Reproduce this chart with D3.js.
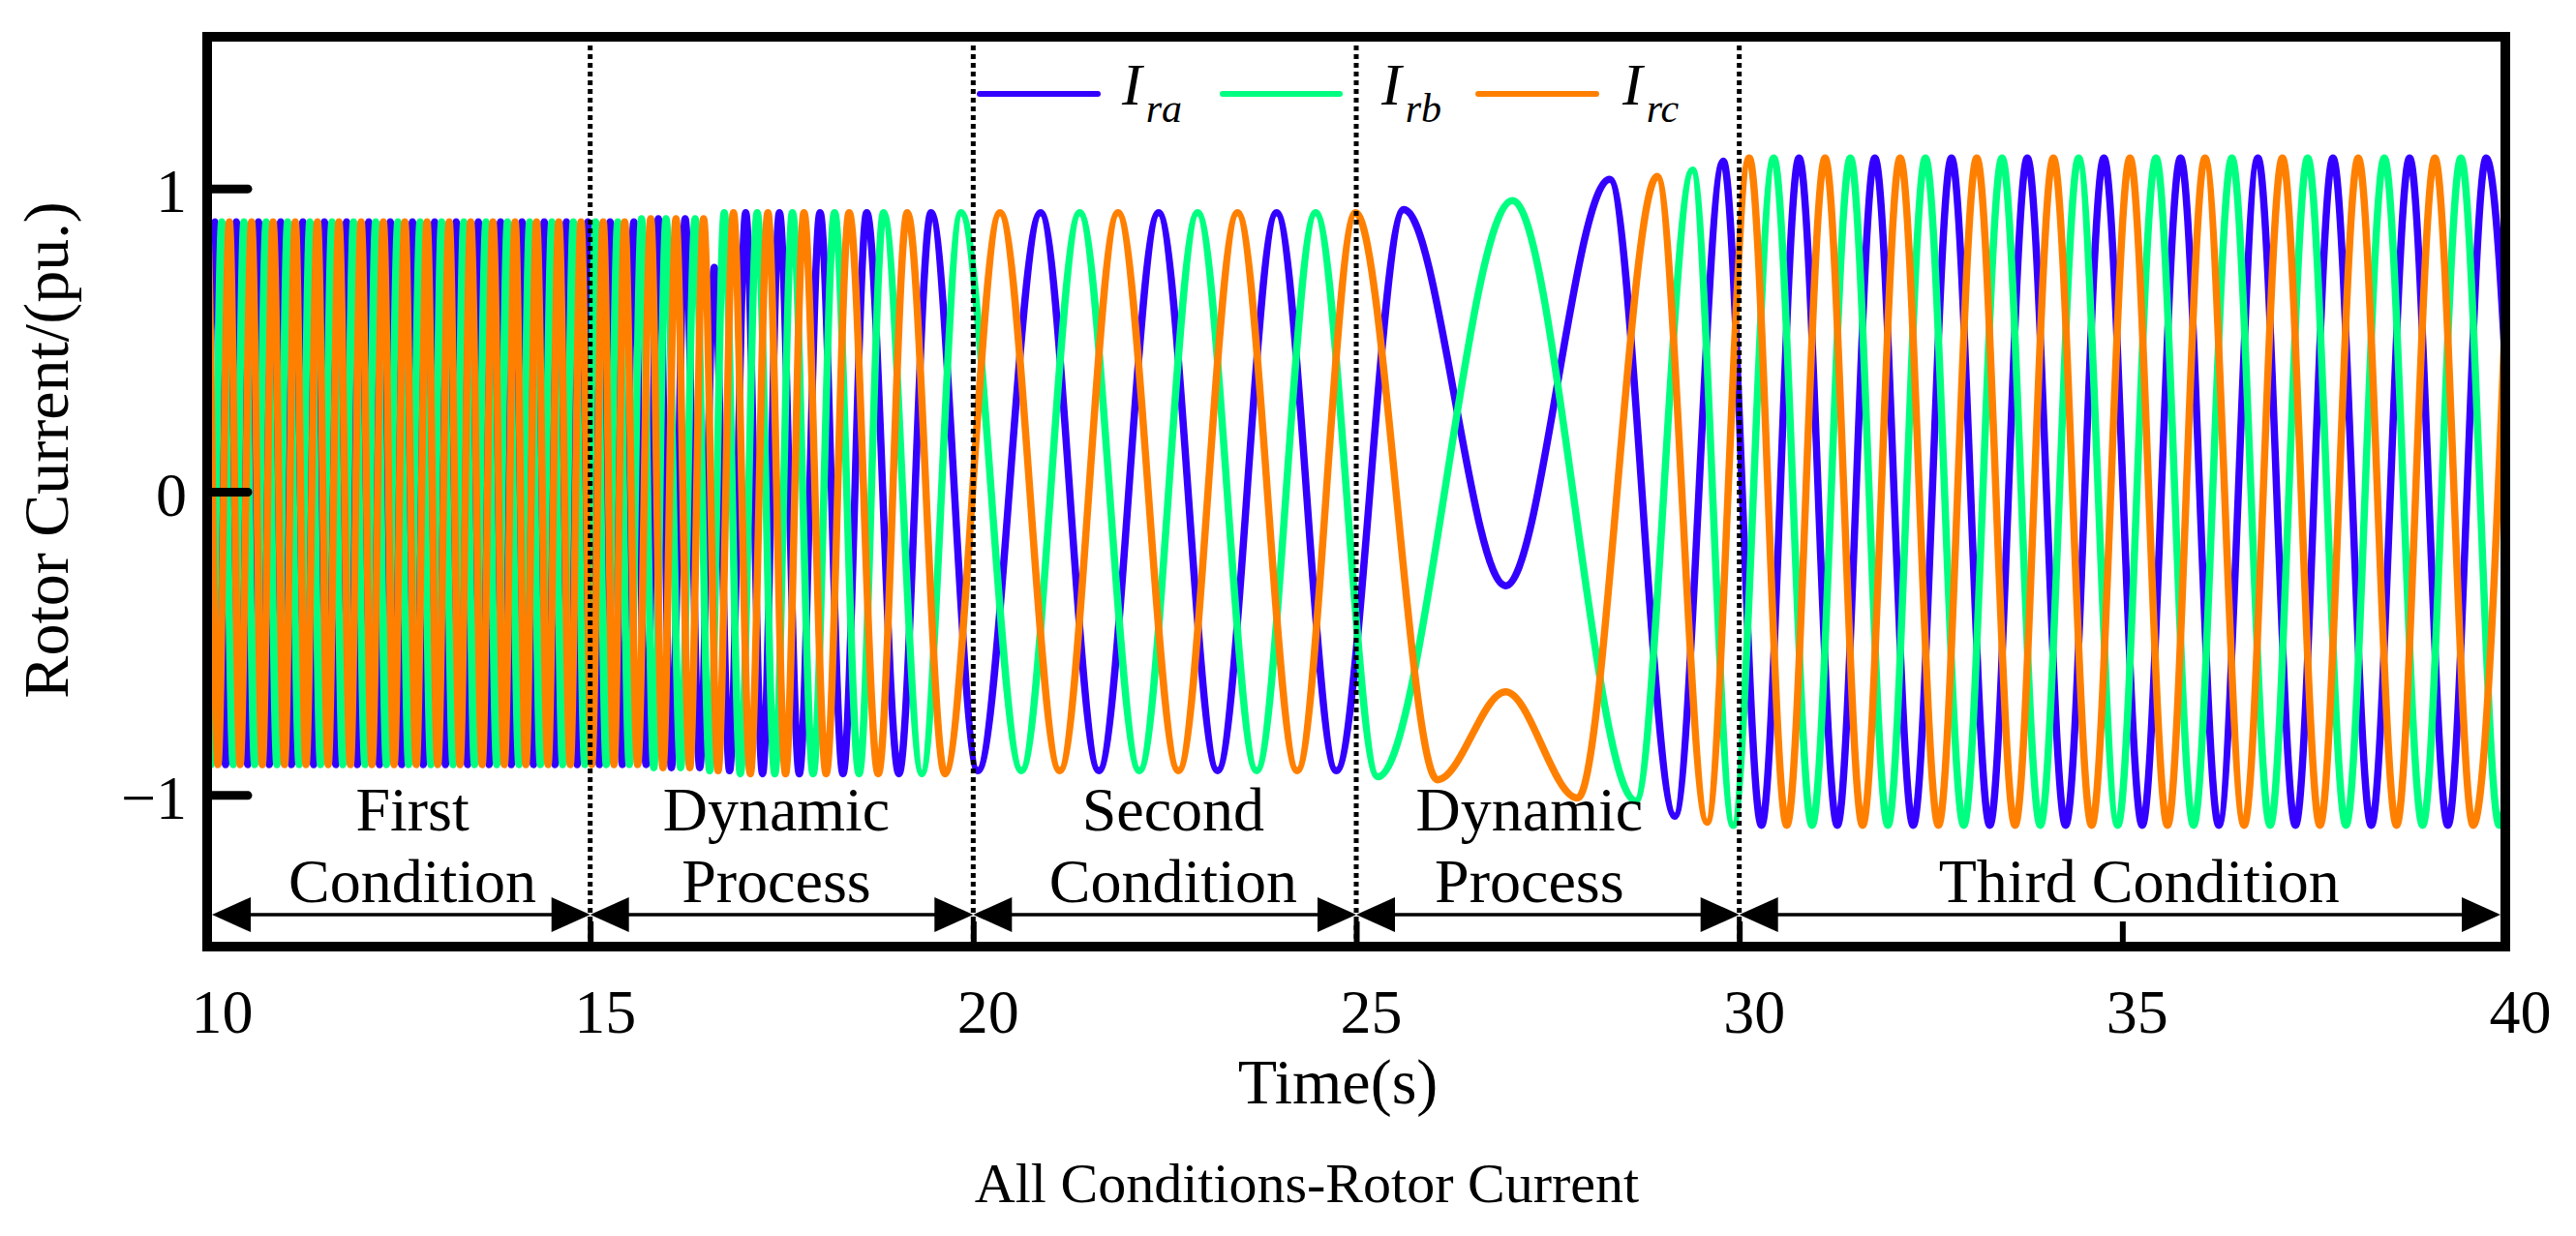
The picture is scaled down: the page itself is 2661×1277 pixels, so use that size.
<!DOCTYPE html>
<html>
<head>
<meta charset="utf-8">
<title>All Conditions-Rotor Current</title>
<script src="https://cdn.jsdelivr.net/npm/d3@7"></script>
<style>
  body { margin: 0; background: #fff; }
  svg text { font-family: "Liberation Serif", "Times New Roman", serif; fill: #000; }
</style>
</head>
<body>
<svg id="chart" width="2661" height="1277"></svg>
<script>
// local extrema [time (s), current (pu.)], joined with a smooth monotone curve
var iraPeaks = [[9.95,-0.9],[10.10,0.89],[10.24,-0.9],[10.38,0.89],[10.53,-0.9],[10.67,0.89],[10.81,-0.9],[10.96,0.89],[11.10,-0.9],[11.25,0.89],[11.39,-0.9],[11.53,0.89],[11.68,-0.9],[11.82,0.89],[11.96,-0.9],[12.11,0.89],[12.25,-0.9],[12.39,0.89],[12.54,-0.9],[12.68,0.89],[12.82,-0.9],[12.97,0.89],[13.11,-0.9],[13.25,0.89],[13.40,-0.9],[13.54,0.89],[13.68,-0.9],[13.83,0.89],[13.97,-0.9],[14.11,0.89],[14.26,-0.9],[14.40,0.89],[14.54,-0.9],[14.69,0.89],[14.83,-0.9],[14.97,0.89],[15.12,-0.9],[15.26,0.89],[15.42,-0.9],[15.57,0.89],[15.73,-0.9],[15.89,0.9],[16.06,-0.91],[16.24,0.9],[16.43,-0.91],[16.62,0.74],[16.82,-0.92],[17.03,0.92],[17.25,-0.93],[17.47,0.92],[17.73,-0.93],[18.00,0.92],[18.30,-0.93],[18.61,0.92],[19.03,-0.93],[19.45,0.92],[20.06,-0.92],[20.88,0.92],[21.64,-0.92],[22.42,0.92],[23.19,-0.92],[23.96,0.92],[24.74,-0.92],[25.62,0.93],[26.95,-0.31],[28.31,1.03],[29.16,-1.07],[29.79,1.09],[30.29,-1.1],[30.78,1.1],[31.28,-1.1],[31.77,1.1],[32.27,-1.1],[32.77,1.1],[33.27,-1.1],[33.76,1.1],[34.26,-1.1],[34.76,1.1],[35.26,-1.1],[35.76,1.1],[36.26,-1.1],[36.77,1.1],[37.26,-1.1],[37.75,1.1],[38.25,-1.1],[38.75,1.1],[39.25,-1.1],[39.75,1.1],[40.25,-1.1]];

var irbPeaks = [[9.91,0.89],[10.05,-0.9],[10.19,0.89],[10.34,-0.9],[10.48,0.89],[10.62,-0.9],[10.77,0.89],[10.91,-0.9],[11.05,0.89],[11.20,-0.9],[11.34,0.89],[11.48,-0.9],[11.63,0.89],[11.77,-0.9],[11.91,0.89],[12.06,-0.9],[12.20,0.89],[12.34,-0.9],[12.49,0.89],[12.63,-0.9],[12.78,0.89],[12.92,-0.9],[13.06,0.89],[13.21,-0.9],[13.35,0.89],[13.49,-0.9],[13.64,0.89],[13.78,-0.9],[13.92,0.89],[14.07,-0.9],[14.21,0.89],[14.35,-0.9],[14.50,0.89],[14.64,-0.9],[14.78,0.89],[14.93,-0.9],[15.07,0.89],[15.21,-0.9],[15.36,0.89],[15.51,-0.9],[15.67,0.9],[15.83,-0.91],[15.99,0.9],[16.18,-0.91],[16.37,0.9],[16.56,-0.92],[16.75,0.92],[16.96,-0.93],[17.18,0.92],[17.41,-0.93],[17.64,0.92],[17.91,-0.93],[18.19,0.92],[18.51,-0.93],[18.83,0.92],[19.33,-0.93],[19.84,0.92],[20.63,-0.92],[21.39,0.92],[22.17,-0.92],[22.93,0.92],[23.70,-0.92],[24.47,0.92],[25.28,-0.94],[27.04,0.96],[28.65,-1.02],[29.39,1.06],[29.92,-1.1],[30.45,1.1],[30.95,-1.1],[31.45,1.1],[31.94,-1.1],[32.43,1.1],[32.93,-1.1],[33.43,1.1],[33.93,-1.1],[34.43,1.1],[34.94,-1.1],[35.44,1.1],[35.93,-1.1],[36.43,1.1],[36.93,-1.1],[37.42,1.1],[37.92,-1.1],[38.42,1.1],[38.92,-1.1],[39.42,1.1],[39.92,-1.1],[40.42,1.1]];

var ircPeaks = [[9.86,-0.9],[10.00,0.89],[10.14,-0.9],[10.29,0.89],[10.43,-0.9],[10.58,0.89],[10.72,-0.9],[10.86,0.89],[11.01,-0.9],[11.15,0.89],[11.29,-0.9],[11.44,0.89],[11.58,-0.9],[11.72,0.89],[11.87,-0.9],[12.01,0.89],[12.15,-0.9],[12.30,0.89],[12.44,-0.9],[12.58,0.89],[12.73,-0.9],[12.87,0.89],[13.01,-0.9],[13.16,0.89],[13.30,-0.9],[13.44,0.89],[13.59,-0.9],[13.73,0.89],[13.88,-0.9],[14.02,0.89],[14.16,-0.9],[14.30,0.89],[14.45,-0.9],[14.59,0.89],[14.74,-0.9],[14.88,0.89],[15.02,-0.9],[15.17,0.89],[15.31,-0.9],[15.45,0.89],[15.62,-0.9],[15.79,0.9],[15.95,-0.91],[16.12,0.9],[16.30,-0.91],[16.48,0.9],[16.67,-0.92],[16.87,0.92],[17.09,-0.93],[17.32,0.92],[17.55,-0.93],[17.79,0.92],[18.08,-0.93],[18.38,0.92],[18.76,-0.93],[19.14,0.92],[19.63,-0.93],[20.35,0.92],[21.13,-0.92],[21.89,0.92],[22.68,-0.92],[23.45,0.92],[24.23,-0.92],[24.99,0.92],[26.06,-0.95],[26.95,-0.66],[27.89,-1.01],[28.93,1.04],[29.58,-1.09],[30.13,1.1],[30.62,-1.1],[31.12,1.1],[31.61,-1.1],[32.10,1.1],[32.60,-1.1],[33.10,1.1],[33.60,-1.1],[34.10,1.1],[34.60,-1.1],[35.10,1.1],[35.59,-1.1],[36.08,1.1],[36.59,-1.1],[37.09,1.1],[37.58,-1.1],[38.08,1.1],[38.58,-1.1],[39.08,1.1],[39.58,-1.1],[40.08,1.1]];

var seriesNames = ["ra", "rb", "rc"];
var xTicks = [10, 15, 20, 25, 30, 35, 40];
var yTicks = [-1, 0, 1];
var boundaries = [15, 20, 25, 30];
var segments = [[10, 15], [15, 20], [20, 25], [25, 30], [30, 40]];
var segmentLabels = [["First", "Condition"], ["Dynamic", "Process"], ["Second", "Condition"], ["Dynamic", "Process"], ["Third Condition"]];
var labelCenters = [12.68, 17.43, 22.61, 27.26, 35.22];

var colors = ["#3300ff", "#00ff80", "#ff8000"];
var series = [iraPeaks, irbPeaks, ircPeaks];

var svg = d3.select("#chart");
var plotL = 214, plotR = 2588, plotT = 38, plotB = 978;

var x = d3.scaleLinear().domain([10, 40]).range([plotL, plotR]);
var y = d3.scaleLinear().domain([-1.5, 1.5]).range([plotB, plotT]);

svg.append("rect").attr("width", 2661).attr("height", 1277).attr("fill", "#fff");

svg.append("clipPath").attr("id", "plot-clip")
  .append("rect")
  .attr("x", plotL).attr("y", plotT)
  .attr("width", plotR - plotL).attr("height", plotB - plotT);

var line = d3.line()
  .x(d => x(d[0]))
  .y(d => y(d[1]))
  .curve(d3.curveMonotoneX);

svg.append("g")
  .attr("clip-path", "url(#plot-clip)")
  .selectAll("path")
  .data(series)
  .enter()
  .append("path")
  .attr("d", line)
  .attr("fill", "none")
  .attr("stroke", (d, i) => colors[i])
  .attr("stroke-width", 7.5)
  .attr("stroke-linejoin", "round");

// condition boundaries
svg.append("g")
  .selectAll("line")
  .data(boundaries)
  .enter()
  .append("line")
  .attr("x1", d => x(d)).attr("x2", d => x(d))
  .attr("y1", plotT).attr("y2", plotB)
  .attr("stroke", "#000")
  .attr("stroke-width", 5)
  .attr("stroke-dasharray", "5 4");

// double arrows + labels for each condition
var arrowY = 945, headLen = 40, headHalf = 18;
var ann = svg.append("g");
segments.forEach(function(s, i) {
  var x0 = x(s[0]) + (s[0] === 10 ? 5 : 0);
  var x1 = x(s[1]) - (s[1] === 40 ? 5 : 0);
  ann.append("line")
    .attr("x1", x0 + 10).attr("x2", x1 - 10)
    .attr("y1", arrowY).attr("y2", arrowY)
    .attr("stroke", "#000").attr("stroke-width", 3.5);
  ann.append("path")
    .attr("d", "M" + x0 + "," + arrowY + "L" + (x0 + headLen) + "," + (arrowY - headHalf) + "L" + (x0 + headLen) + "," + (arrowY + headHalf) + "Z")
    .attr("fill", "#000");
  ann.append("path")
    .attr("d", "M" + x1 + "," + arrowY + "L" + (x1 - headLen) + "," + (arrowY - headHalf) + "L" + (x1 - headLen) + "," + (arrowY + headHalf) + "Z")
    .attr("fill", "#000");

  var lines = segmentLabels[i];
  lines.forEach(function(txt, j) {
    ann.append("text")
      .attr("x", x(labelCenters[i]))
      .attr("y", lines.length === 2 ? (j === 0 ? 858 : 932) : 932)
      .attr("text-anchor", "middle")
      .style("font-size", "64px")
      .text(txt);
  });
});

// legend
var legendPos = [[1012, 1134, 1159], [1263, 1384, 1427], [1527, 1649, 1676]];
var legend = svg.append("g");
seriesNames.forEach(function(name, i) {
  var p = legendPos[i];
  legend.append("line")
    .attr("x1", p[0]).attr("x2", p[1])
    .attr("y1", 97).attr("y2", 97)
    .attr("stroke", colors[i])
    .attr("stroke-width", 6)
    .attr("stroke-linecap", "round");
  var t = legend.append("text")
    .attr("x", p[2]).attr("y", 108)
    .style("font-style", "italic")
    .style("font-size", "62px");
  t.append("tspan").text("I");
  t.append("tspan").attr("dx", 4).attr("dy", 18).style("font-size", "42px").text(name);
});

// frame
svg.append("rect")
  .attr("x", plotL).attr("y", plotT)
  .attr("width", plotR - plotL).attr("height", plotB - plotT)
  .attr("fill", "none")
  .attr("stroke", "#000")
  .attr("stroke-width", 10);

// axes
var xAxis = svg.append("g")
  .attr("transform", "translate(0," + plotB + ")")
  .call(d3.axisBottom(x).tickValues(xTicks).tickSize(-26).tickPadding(0));
xAxis.select(".domain").remove();
xAxis.selectAll(".tick line").attr("stroke", "#000").attr("stroke-width", 6);
xAxis.selectAll(".tick text")
  .attr("x", 15).attr("y", 89).attr("dy", null)
  .style("font-size", "64px");

var yAxis = svg.append("g")
  .attr("transform", "translate(" + plotL + ",0)")
  .call(d3.axisLeft(y).tickValues(yTicks).tickFormat(d3.format("d")).tickSize(-42).tickPadding(21));
yAxis.select(".domain").remove();
yAxis.selectAll(".tick line").attr("stroke", "#000").attr("stroke-width", 9).attr("stroke-linecap", "round");
yAxis.selectAll(".tick text")
  .attr("dy", "0.38em")
  .style("font-size", "64px");

svg.append("text")
  .attr("x", 1382).attr("y", 1140)
  .attr("text-anchor", "middle")
  .style("font-size", "66px")
  .text("Time(s)");

svg.append("text")
  .attr("transform", "translate(70,465) rotate(-90)")
  .attr("text-anchor", "middle")
  .style("font-size", "66px")
  .text("Rotor Current/(pu.)");

svg.append("text")
  .attr("x", 1350).attr("y", 1242)
  .attr("text-anchor", "middle")
  .style("font-size", "58px")
  .text("All Conditions-Rotor Current");
</script>
</body>
</html>
